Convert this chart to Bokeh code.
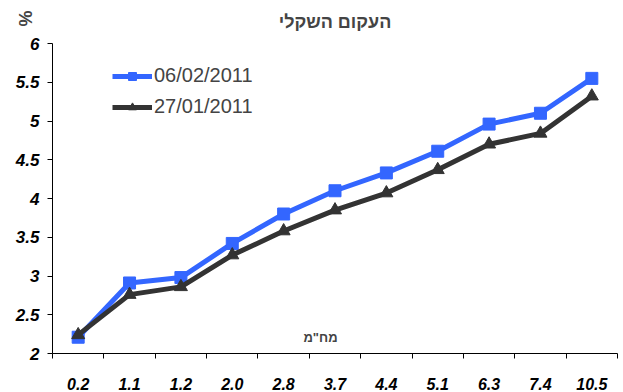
import numpy as np
from bokeh.plotting import figure
from bokeh.models import FixedTicker, Range1d, Label, Legend, LegendItem
from bokeh.embed import file_html
from bokeh.resources import INLINE

# Maturity buckets (duration, years) and yields (%)
maturities = ["0.2", "1.1", "1.2", "2.0", "2.8", "3.7", "4.4", "5.1", "6.3", "7.4", "10.5"]
yields_0602 = [2.21, 2.91, 2.98, 3.42, 3.80, 4.10, 4.33, 4.61, 4.96, 5.10, 5.55]
yields_2701 = [2.24, 2.76, 2.86, 3.27, 3.58, 3.85, 4.07, 4.37, 4.70, 4.84, 5.32]
series_labels = ["06/02/2011", "27/01/2011"]
y_ticks = [2, 2.5, 3, 3.5, 4, 4.5, 5, 5.5, 6]

BLUE = "#3366ff"
DARK = "#333333"
FONT = "Liberation Sans"

n = len(maturities)
xs = np.arange(n) + 0.5  # each maturity sits in the middle of its slot

p = figure(width=623, height=392, output_backend="svg", toolbar_location=None,
           x_range=Range1d(0, n), y_range=Range1d(2, 6),
           min_border_left=52, min_border_right=6, min_border_top=43, min_border_bottom=38)
p.outline_line_color = None
p.xgrid.visible = False
p.ygrid.visible = False
p.background_fill_color = "white"
p.border_fill_color = "white"

# title
p.title.text = "העקום השקלי"
p.title.align = "center"
p.title.text_font = FONT
p.title.text_font_size = "18px"
p.title.text_font_style = "bold"
p.title.offset = -7
p.title.standoff = -8

# x axis: labels at slot centres, tick marks between slots
p.xaxis.ticker = FixedTicker(ticks=list(xs), minor_ticks=list(range(n + 1)))
p.xaxis.major_label_overrides = {float(x): m for x, m in zip(xs, maturities)}
p.xaxis.major_tick_out = 0
p.xaxis.major_tick_in = 0
p.xaxis.minor_tick_out = 5
p.xaxis.minor_tick_in = 0
p.xaxis.major_label_standoff = 19
p.xaxis.major_label_text_font = FONT
p.xaxis.major_label_text_font_style = "bold italic"
p.xaxis.major_label_text_font_size = "16px"
p.xaxis.major_label_text_color = "black"
p.xaxis.axis_line_color = "black"
p.xaxis.minor_tick_line_color = "black"

# y axis
p.yaxis.ticker = FixedTicker(ticks=y_ticks)
p.yaxis.major_tick_out = 5
p.yaxis.major_tick_in = 0
p.yaxis.minor_tick_line_color = None
p.yaxis.major_label_standoff = 8
p.yaxis.major_label_text_font = FONT
p.yaxis.major_label_text_font_style = "bold italic"
p.yaxis.major_label_text_font_size = "17px"
p.yaxis.major_label_text_color = "black"
p.yaxis.axis_line_color = "black"
p.yaxis.major_tick_line_color = "black"

# series
l1 = p.line(xs, yields_0602, line_color=BLUE, line_width=5)
m1 = p.scatter(xs, yields_0602, marker="square", size=12, fill_color=BLUE, line_color=BLUE)
l2 = p.line(xs, yields_2701, line_color=DARK, line_width=5)
m2 = p.scatter(xs, yields_2701, marker="triangle", size=13, fill_color=DARK, line_color=DARK)

legend = Legend(items=[LegendItem(label=series_labels[0], renderers=[l1, m1]),
                       LegendItem(label=series_labels[1], renderers=[l2, m2])],
                location=(60, 235), orientation="vertical",
                border_line_color=None, background_fill_alpha=0,
                label_text_font=FONT, label_text_font_size="20px",
                glyph_width=40, glyph_height=20, spacing=8, padding=0, margin=0,
                label_standoff=2)
p.add_layout(legend, "center")

# axis title inside the plot
p.add_layout(Label(x=268, y=16, x_units="screen", y_units="screen", text='מח"מ',
                   text_font=FONT, text_font_style="bold",
                   text_font_size="13px", text_align="center", text_baseline="middle"))

# unit label above the top of the y axis
p.add_layout(Label(x=-27, y=25, x_units="screen", y_units="screen", text="%",
                   angle=np.pi / 2, text_font=FONT, text_font_style="bold",
                   text_font_size="18px", text_align="center", text_baseline="middle"),
             "above")

open("out.html", "w").write(file_html(p, INLINE))
